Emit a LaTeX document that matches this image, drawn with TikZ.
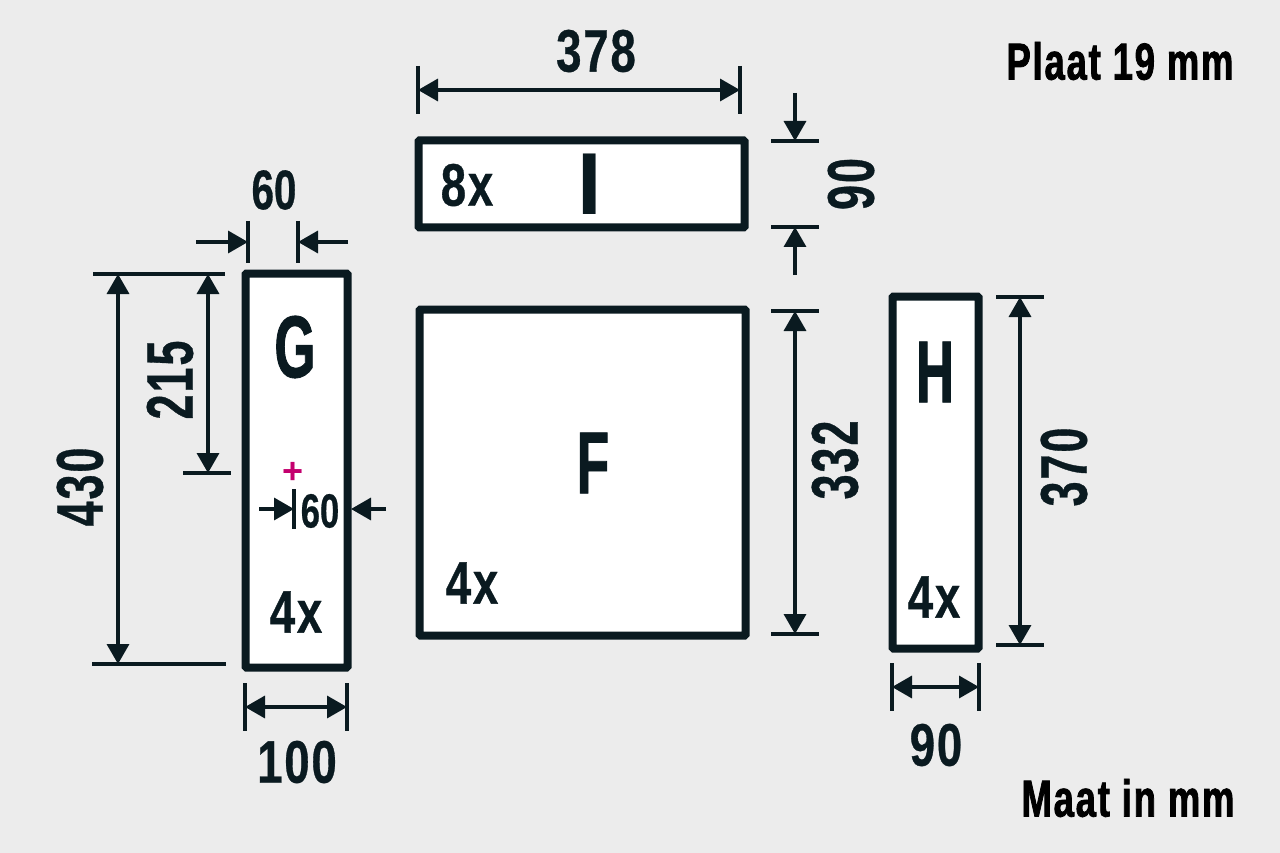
\documentclass[tikz,border=0pt]{standalone}
\usepackage{fontspec}
\usetikzlibrary{arrows.meta}
\newfontfamily\dimfont[FakeStretch=0.76,LetterSpace=3,FakeBold=0.5]{Liberation Sans}
\newfontfamily\rotfont[FakeStretch=0.68,LetterSpace=3,FakeBold=0.5]{Liberation Sans}
\newfontfamily\smallfont[FakeStretch=0.72,FakeBold=0.5]{Liberation Sans}
\newfontfamily\bigfont[FakeStretch=0.6,FakeBold=1]{Liberation Sans}
\newfontfamily\titlefont[FakeStretch=0.7,LetterSpace=3.5,FakeBold=1.5]{Liberation Sans}
\newfontfamily\markfont{Liberation Sans}
\definecolor{ink}{HTML}{0A1A20}
\definecolor{paper}{HTML}{ECECEC}
\definecolor{mark}{HTML}{C4006E}
\tikzset{
  plate/.style={draw=ink, fill=white, line width=8pt, rounded corners=1pt, inner sep=0pt},
  dimline/.style={draw=ink, line width=3.5pt, -{Triangle[width=22pt,length=20pt]}},
  dimboth/.style={draw=ink, line width=3.5pt, {Triangle[width=22pt,length=20pt]}-{Triangle[width=22pt,length=20pt]}},
  dimtick/.style={draw=ink, line width=3.5pt},
  dimtext/.style={text=ink, font=\dimfont\bfseries\fontsize{60}{60}\selectfont, inner sep=0pt},
  rottext/.style={text=ink, rotate=90, font=\rotfont\bfseries\fontsize{66}{66}\selectfont, inner sep=0pt},
  smalltext/.style={text=ink, font=\smallfont\bfseries\fontsize{56}{56}\selectfont, inner sep=0pt},
  bigtext/.style={text=ink, font=\bigfont\bfseries\fontsize{88}{88}\selectfont, inner sep=0pt},
  titletext/.style={text=black, font=\titlefont\bfseries\fontsize{52}{52}\selectfont, inner sep=0pt}
}
\begin{document}
\begin{tikzpicture}[x=1pt, y=-1pt]
  % background
  \fill [paper] (0, 0) rectangle (1280, 853);

  % plates
  \node [plate, minimum width=326pt, minimum height=87pt] (plateI) at (581.5, 184) {};
  \node [plate, minimum width=326pt, minimum height=326pt] (plateF) at (582.5, 472.5) {};
  \node [plate, minimum width=102pt, minimum height=394pt] (plateG) at (296.5, 470.5) {};
  \node [plate, minimum width=86pt, minimum height=352pt] (plateH) at (935.5, 472.5) {};

  % vertical ticks
  \foreach \name/\x/\y/\len in {a/418/90/24, b/740/90/24, c/248/242/21, d/298/242/21,
      e/245/707/24, f/347/707/24, g/892/687/24, h/979/687/24, i/294/509/20} {
    \coordinate (\name) at (\x, \y);
    \draw [dimtick] (\name) ++(0, -\len) -- ++(0, 2*\len);
  }

  % horizontal ticks
  \foreach \name/\x/\y/\len in {j/795/141/24, k/795/227/24, l/795/311/24, m/795/634/24,
      n/1020/297/24, o/1020/645/24, p/159/274/66, q/159/664/67, r/207/473/24} {
    \coordinate (\name) at (\x, \y);
    \draw [dimtick] (\name) ++(-\len, 0) -- ++(2*\len, 0);
  }

  % free ends of the single arrows
  \coordinate (cStart) at (196, 242);
  \coordinate (dStart) at (348, 242);
  \coordinate (jStart) at (795, 93);
  \coordinate (kStart) at (795, 275);
  \coordinate (iStart) at (259, 509);
  \coordinate (gRight) at (351, 509);
  \coordinate (gStart) at (386, 509);
  \coordinate (pBase) at (118, 274);
  \coordinate (qBase) at (118, 664);
  \coordinate (rTop) at (208, 274);
  \coordinate (rBase) at (208, 473);

  % dimension arrows
  \draw [dimboth] (a) -- (b);
  \draw [dimline] (jStart) -- (j);
  \draw [dimline] (kStart) -- (k);
  \draw [dimline] (cStart) -- (c);
  \draw [dimline] (dStart) -- (d);
  \draw [dimboth] (pBase) -- (qBase);
  \draw [dimboth] (rTop) -- (rBase);
  \draw [dimline] (iStart) -- (i);
  \draw [dimline] (gStart) -- (gRight);
  \draw [dimboth] (e) -- (f);
  \draw [dimboth] (l) -- (m);
  \draw [dimboth] (n) -- (o);
  \draw [dimboth] (g) -- (h);

  % dimension labels
  \node [dimtext] (w378) at (596, 51) {378};
  \node [rottext] (h90) at (851, 184) {90};
  \node [smalltext] (w60top) at (274, 190) {60};
  \node [rottext] (h430) at (80, 487) {430};
  \node [rottext] (h215) at (170, 380) {215};
  \node [smalltext, font=\smallfont\bfseries\fontsize{48}{48}\selectfont] (w60in) at (320, 511) {60};
  \node [dimtext] (w100) at (297, 762) {100};
  \node [rottext] (h332) at (835, 460) {332};
  \node [rottext] (h370) at (1064, 467) {370};
  \node [dimtext] (w90) at (936, 745) {90};

  % plate letters
  \node [bigtext, font=\markfont\bfseries\fontsize{88}{88}\selectfont] (nameI) at (590, 184) {I};
  \node [bigtext] (nameF) at (593, 463) {F};
  \node [bigtext] (nameG) at (295, 347) {G};
  \node [bigtext] (nameH) at (935, 372) {H};
  \node [dimtext] (countI) at (467, 185) {8x};
  \node [dimtext] (countF) at (472, 583) {4x};
  \node [dimtext] (countG) at (296, 612) {4x};
  \node [dimtext] (countH) at (934, 597) {4x};

  % centre mark
  \node [text=mark, font=\markfont\bfseries\fontsize{36}{36}\selectfont, inner sep=0pt] (centre) at (293.5, 473) {+};

  % titles
  \node [titletext] (plaat) at (1120, 61) {Plaat 19 mm};
  \node [titletext] (maat) at (1128, 798) {Maat in mm};
\end{tikzpicture}
\end{document}
